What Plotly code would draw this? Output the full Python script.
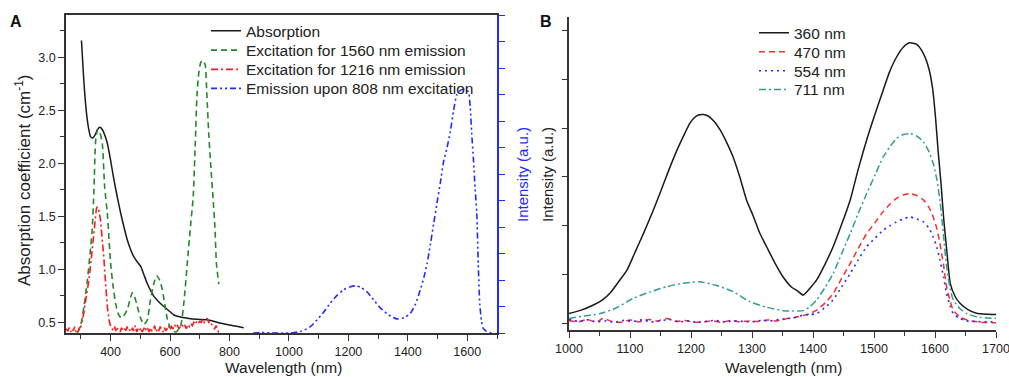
import plotly.graph_objects as go

# ---------------- Panel A data ----------------
# Absorption spectrum (left axis, cm^-1)
abs_wl = [302, 310, 318, 326, 333, 340, 348, 356, 364, 372, 380, 389, 400, 411, 422, 434,
          445, 456, 467, 478, 490, 501, 512, 523, 535, 546, 560, 579, 596, 613, 635, 658,
          690, 725, 760, 792, 820, 848]
abs_val = [3.16, 2.78, 2.50, 2.33, 2.25, 2.24, 2.27, 2.32, 2.34, 2.32, 2.27, 2.19, 2.03, 1.85,
           1.69, 1.53, 1.40, 1.28, 1.19, 1.12, 1.07, 1.03, 0.95, 0.87, 0.80, 0.745, 0.70, 0.65,
           0.61, 0.57, 0.55, 0.54, 0.53, 0.525, 0.50, 0.48, 0.465, 0.45]

# Excitation spectrum monitored at 1560 nm (left axis)
exc1560_wl = [288, 300, 311, 322, 330, 338, 344, 350, 357, 364, 372, 380, 389, 400, 408, 417,
              426, 436, 446, 456, 465, 473, 481, 490, 501, 512, 523, 534, 545, 555, 565, 574,
              583, 591, 599, 607, 620, 635, 647, 658, 668, 678, 685, 691, 697, 703, 708, 712,
              716, 719, 724, 730, 737, 745, 751, 756, 764]
exc1560_val = [0.40, 0.48, 0.66, 0.90, 1.12, 1.37, 1.75, 2.22, 2.32, 2.29, 2.19, 1.78, 1.53,
               1.06, 0.85, 0.68, 0.58, 0.54, 0.57, 0.62, 0.71, 0.78, 0.74, 0.65, 0.54, 0.48,
               0.52, 0.71, 0.86, 0.94, 0.90, 0.81, 0.66, 0.53, 0.46, 0.42, 0.41, 0.46, 0.70,
               1.06, 1.38, 1.69, 2.20, 2.66, 2.86, 2.95, 2.97, 2.97, 2.95, 2.92, 2.65, 2.29,
               1.98, 1.66, 1.40, 1.06, 0.86]

# Excitation spectrum monitored at 1216 nm (left axis, noisy baseline)
exc1216_wl = [250, 256, 261, 266, 270, 275, 279, 284, 288, 292, 296, 300, 305, 310, 318, 327,
              335, 342, 348, 352, 355, 358, 361, 366, 372, 377, 383, 389, 395, 400, 405, 410,
              414, 419, 423, 428, 432, 437, 441, 446, 450, 455, 460, 464, 469, 474, 478, 483,
              488, 492, 497, 502, 506, 511, 516, 520, 525, 530, 534, 539, 544, 548, 553, 558,
              562, 567, 572, 576, 581, 586, 590, 595, 600, 605, 610, 615, 620, 625, 630, 635,
              640, 645, 650, 655, 660, 665, 670, 675, 680, 685, 690, 695, 700, 705, 710, 715,
              720, 725, 730, 735, 740, 745, 750, 755, 760, 764]
exc1216_val = [0.44, 0.42, 0.45, 0.41, 0.44, 0.42, 0.46, 0.41, 0.43, 0.42, 0.45, 0.46, 0.52,
               0.59, 0.74, 0.90, 1.10, 1.28, 1.48, 1.57, 1.59, 1.56, 1.55, 1.47, 1.30, 1.12,
               0.88, 0.65, 0.52, 0.46, 0.44, 0.42, 0.46, 0.41, 0.44, 0.43, 0.41, 0.45, 0.42,
               0.44, 0.41, 0.46, 0.42, 0.43, 0.41, 0.45, 0.42, 0.47, 0.41, 0.44, 0.42, 0.45,
               0.41, 0.43, 0.46, 0.42, 0.44, 0.41, 0.45, 0.42, 0.43, 0.47, 0.41, 0.44, 0.42,
               0.46, 0.43, 0.41, 0.45, 0.42, 0.44, 0.47, 0.43, 0.46, 0.44, 0.48, 0.45, 0.47,
               0.44, 0.46, 0.48, 0.45, 0.47, 0.44, 0.48, 0.46, 0.49, 0.47, 0.50, 0.48, 0.51,
               0.49, 0.51, 0.50, 0.53, 0.50, 0.52, 0.54, 0.50, 0.51, 0.48, 0.46, 0.44, 0.47,
               0.42, 0.40]

# Emission upon 808 nm excitation (right axis, a.u.)
em808_wl = [880, 904, 940, 975, 1005, 1039, 1070, 1095, 1118, 1139, 1162, 1184, 1205, 1223,
            1242, 1262, 1285, 1308, 1336, 1364, 1388, 1409, 1426, 1442, 1454, 1465, 1476,
            1487, 1498, 1509, 1520, 1532, 1543, 1554, 1565, 1576, 1587, 1596, 1604, 1610,
            1615, 1621, 1626, 1632, 1637, 1642, 1648, 1653, 1664, 1676, 1690]
em808_val = [0.0, 0.02, 0.0, 0.0, 0.0, 0.06, 0.22, 0.50, 0.80, 1.13, 1.42, 1.63, 1.74, 1.78,
             1.72, 1.56, 1.25, 0.94, 0.68, 0.53, 0.58, 0.75, 1.10, 1.63, 2.10, 2.63, 3.35,
             4.13, 4.90, 5.64, 6.45, 7.00, 7.60, 8.40, 9.00, 9.15, 9.20, 9.18, 9.10, 8.50,
             7.52, 6.50, 5.51, 4.51, 2.60, 1.10, 0.45, 0.19, 0.06, 0.02, 0.0]

# ---------------- Panel B data ----------------
wl_360 = [1000, 1020, 1040, 1055, 1067, 1080, 1095, 1108, 1122, 1136, 1149, 1163, 1177, 1190,
          1198, 1205, 1212, 1220, 1228, 1238, 1248, 1258, 1269, 1280, 1291, 1302, 1313, 1324,
          1337, 1351, 1365, 1375, 1384, 1395, 1406, 1420, 1433, 1447, 1461, 1474, 1488, 1502,
          1515, 1526, 1537, 1548, 1558, 1570, 1581, 1590, 1596, 1601, 1605, 1610, 1614, 1620,
          1625, 1633, 1641, 1654, 1668, 1685, 1700]
in_360 = [0.20, 0.27, 0.375, 0.48, 0.615, 0.83, 1.09, 1.45, 1.84, 2.25, 2.66, 3.12, 3.55,
          3.90, 4.10, 4.21, 4.27, 4.28, 4.25, 4.14, 3.96, 3.72, 3.41, 3.00, 2.53, 2.20, 1.84,
          1.57, 1.25, 0.95, 0.74, 0.66, 0.58, 0.72, 0.89, 1.22, 1.57, 2.03, 2.53, 3.15, 3.76,
          4.30, 4.78, 5.17, 5.46, 5.66, 5.75, 5.72, 5.53, 5.22, 4.82, 4.20, 3.55, 2.85, 2.18,
          1.40, 0.82, 0.55, 0.41, 0.28, 0.205, 0.185, 0.18]

wl_470 = [1000, 1015, 1030, 1045, 1055, 1070, 1085, 1100, 1115, 1130, 1145, 1160, 1175, 1190,
          1205, 1220, 1235, 1250, 1265, 1280, 1295, 1310, 1325, 1340, 1355, 1370, 1384, 1395,
          1406, 1420, 1433, 1447, 1461, 1474, 1488, 1502, 1515, 1526, 1537, 1548, 1559, 1570,
          1581, 1590, 1597, 1603, 1608, 1614, 1619, 1625, 1630, 1641, 1652, 1670, 1700]
in_470 = [0.06, 0.03, 0.08, 0.02, 0.10, 0.04, 0.02, 0.07, 0.03, 0.08, 0.05, 0.10, 0.04, 0.06,
          0.02, 0.03, 0.05, 0.02, 0.06, 0.03, 0.05, 0.04, 0.07, 0.05, 0.09, 0.12, 0.16, 0.20,
          0.27, 0.42, 0.61, 0.92, 1.23, 1.53, 1.84, 2.07, 2.29, 2.44, 2.56, 2.63, 2.66, 2.62,
          2.53, 2.38, 2.18, 1.94, 1.64, 1.20, 0.75, 0.45, 0.27, 0.13, 0.07, 0.03, 0.01]

wl_554 = [1000, 1015, 1030, 1045, 1060, 1075, 1090, 1105, 1120, 1135, 1150, 1165, 1180, 1195,
          1210, 1225, 1240, 1255, 1270, 1285, 1300, 1315, 1330, 1345, 1360, 1375, 1384, 1395,
          1406, 1420, 1433, 1447, 1461, 1474, 1488, 1502, 1515, 1526, 1537, 1548, 1559, 1570,
          1581, 1590, 1597, 1603, 1608, 1614, 1619, 1625, 1630, 1641, 1652, 1670, 1700]
in_554 = [0.08, 0.04, 0.07, 0.03, 0.05, 0.02, 0.06, 0.04, 0.07, 0.03, 0.05, 0.08, 0.03, 0.05,
          0.02, 0.04, 0.06, 0.03, 0.05, 0.04, 0.03, 0.06, 0.05, 0.08, 0.10, 0.13, 0.17, 0.18,
          0.20, 0.33, 0.48, 0.75, 1.02, 1.30, 1.57, 1.75, 1.91, 2.00, 2.08, 2.14, 2.18, 2.14,
          2.08, 1.95, 1.77, 1.56, 1.30, 0.95, 0.61, 0.35, 0.20, 0.10, 0.05, 0.035, 0.03]

wl_711 = [1000, 1025, 1051, 1078, 1105, 1132, 1160, 1187, 1214, 1241, 1269, 1297, 1324, 1351,
          1368, 1384, 1395, 1406, 1420, 1433, 1447, 1461, 1474, 1488, 1502, 1515, 1526, 1537,
          1548, 1559, 1570, 1581, 1590, 1597, 1603, 1608, 1614, 1619, 1625, 1630, 1641, 1652,
          1670, 1700]
in_711 = [0.10, 0.15, 0.20, 0.32, 0.51, 0.64, 0.75, 0.82, 0.85, 0.78, 0.65, 0.44, 0.33, 0.26,
          0.25, 0.26, 0.34, 0.48, 0.74, 1.02, 1.43, 1.84, 2.25, 2.66, 3.05, 3.41, 3.62, 3.79,
          3.87, 3.89, 3.84, 3.72, 3.52, 3.28, 2.95, 2.53, 1.80, 1.16, 0.70, 0.48, 0.30, 0.20,
          0.13, 0.10]

FONT = "Liberation Sans, Arial, sans-serif"
INK = "#222222"
BLUE = "#1f2bff"
W, H = 1009, 377


def px_x(x):
    return x / W


def px_y(y):
    return 1 - y / H


fig = go.Figure()

# Panel A traces (each in its own legend box so the rows sit tightly stacked)
fig.add_trace(go.Scatter(x=abs_wl, y=abs_val, name="Absorption", mode="lines",
                         line=dict(color="#1a1a1a", width=1.5, shape="spline", smoothing=0.6),
                         xaxis="x", yaxis="y", legend="legend"))
fig.add_trace(go.Scatter(x=exc1560_wl, y=exc1560_val, name="Excitation for 1560 nm emission",
                         mode="lines",
                         line=dict(color="#23882a", width=1.6, dash="6px,4px", shape="spline",
                                   smoothing=0.6),
                         xaxis="x", yaxis="y", legend="legend2"))
fig.add_trace(go.Scatter(x=exc1216_wl, y=exc1216_val, name="Excitation for 1216 nm emission",
                         mode="lines",
                         line=dict(color="#ff1a1a", width=1.6, dash="7px,3px,2px,3px"),
                         xaxis="x", yaxis="y", legend="legend3"))
fig.add_trace(go.Scatter(x=em808_wl, y=em808_val, name="Emission upon 808 nm excitation",
                         mode="lines",
                         line=dict(color=BLUE, width=1.6,
                                   dash="6px,3px,2px,3px,2px,3px", shape="spline",
                                   smoothing=0.6),
                         xaxis="x", yaxis="y2", legend="legend4"))

# Panel B traces
fig.add_trace(go.Scatter(x=wl_360, y=in_360, name="360 nm", mode="lines",
                         line=dict(color="#1a1a1a", width=1.5, shape="spline", smoothing=0.6),
                         xaxis="x3", yaxis="y3", legend="legend5"))
fig.add_trace(go.Scatter(x=wl_470, y=in_470, name="470 nm", mode="lines",
                         line=dict(color="#ff2a2a", width=1.5, dash="6px,4px", shape="spline",
                                   smoothing=0.6),
                         xaxis="x3", yaxis="y3", legend="legend6"))
fig.add_trace(go.Scatter(x=wl_554, y=in_554, name="554 nm", mode="lines",
                         line=dict(color="#2a2aff", width=1.6, dash="2px,4px", shape="spline",
                                   smoothing=0.6),
                         xaxis="x3", yaxis="y3", legend="legend7"))
fig.add_trace(go.Scatter(x=wl_711, y=in_711, name="711 nm", mode="lines",
                         line=dict(color="#2f9c98", width=1.5, dash="7px,3px,2px,3px",
                                   shape="spline", smoothing=0.6),
                         xaxis="x3", yaxis="y3", legend="legend8"))

tickfont = dict(family=FONT, size=12.5, color=INK)
A_dom_x = [px_x(66), px_x(497)]
A_dom_y = [px_y(333), px_y(15)]
B_dom_x = [px_x(569), px_x(996)]
B_dom_y = [px_y(330), px_y(17)]

fig.update_layout(
    template="none",
    width=W, height=H,
    margin=dict(l=0, r=0, t=0, b=0, autoexpand=False),
    paper_bgcolor="white", plot_bgcolor="white",
    font=dict(family=FONT, color=INK),
    xaxis=dict(domain=A_dom_x, anchor="y", range=[250, 1700], tickmode="linear", tick0=400,
               dtick=200, ticks="outside", ticklen=6, tickwidth=1.2, tickcolor="#333",
               showline=True, linecolor="#333", linewidth=1.5, mirror=True,
               showgrid=False, zeroline=False, tickfont=tickfont, automargin=False,
               minor=dict(tickmode="linear", tick0=300, dtick=100, ticks="outside",
                          ticklen=4, tickcolor="#333", showgrid=False)),
    xaxis2=dict(domain=A_dom_x, anchor="y", overlaying="x", side="top", range=[250, 1700],
                tickmode="linear", tick0=300, dtick=100, ticks="inside", ticklen=5,
                tickcolor="#333", showticklabels=False, showline=True, linecolor="#333",
                linewidth=1.5, showgrid=False, zeroline=False, automargin=False),
    yaxis=dict(domain=A_dom_y, anchor="x", range=[0.4, 3.4], tickmode="linear", tick0=0.5,
               dtick=0.5, tickformat=".1f", ticks="outside", ticklen=6, tickwidth=1.2,
               tickcolor="#333", showline=True, linecolor="#333", linewidth=1.5,
               showgrid=False, zeroline=False, tickfont=tickfont, automargin=False,
               minor=dict(tickmode="linear", tick0=0.25, dtick=0.25, ticks="outside",
                          ticklen=4, tickcolor="#333", showgrid=False)),
    yaxis2=dict(domain=A_dom_y, anchor="x", overlaying="y", side="right", range=[0, 12],
                tickmode="linear", tick0=0, dtick=1, ticks="outside", ticklen=6,
                tickwidth=1.2, tickcolor=BLUE, showticklabels=False, showline=True,
                linecolor=BLUE, linewidth=1.5, showgrid=False, zeroline=False,
                automargin=False),
    xaxis3=dict(domain=B_dom_x, anchor="y3", range=[1000, 1700], tickmode="linear",
                tick0=1000, dtick=100, ticks="outside", ticklen=6, tickwidth=1.2,
                tickcolor="#333", showline=True, linecolor="#333", linewidth=1.5,
                showgrid=False, zeroline=False, tickfont=tickfont, automargin=False,
                ticklabeloverflow="allow",
                minor=dict(tickmode="linear", tick0=1050, dtick=100, ticks="outside",
                           ticklen=4, tickcolor="#333", showgrid=False)),
    yaxis3=dict(domain=B_dom_y, anchor="x3", range=[-0.137, 6.28], tickmode="linear",
                tick0=0, dtick=1, ticks="outside", ticklen=5, tickwidth=1.2,
                tickcolor="#333", showticklabels=False, showline=True, linecolor="#333",
                linewidth=1.5, showgrid=False, zeroline=False, automargin=False),
    showlegend=True,
)

# Legend rows: panel A (text centres ~31, 50, 69, 88 px) and panel B (~33, 52, 71, 89 px)
legend_font = dict(family=FONT, size=15.5, color=INK)
A_rows = [30.7, 50.0, 69.3, 88.3]
B_rows = [32.7, 51.7, 70.7, 89.3]
legend_specs = {}
for i, yc in enumerate(A_rows):
    legend_specs["legend" if i == 0 else f"legend{i + 1}"] = (206, yc)
for i, yc in enumerate(B_rows):
    legend_specs[f"legend{i + 5}"] = (754, yc)
for key, (lx, yc) in legend_specs.items():
    fig.update_layout({key: dict(x=px_x(lx), y=px_y(yc - 16.5), xanchor="left",
                                 yanchor="top", bgcolor="rgba(0,0,0,0)", borderwidth=0,
                                 font=legend_font, itemwidth=30)})

label_font = dict(family=FONT, size=15.5, color=INK)
annotations = [
    dict(text="<b>A</b>", x=px_x(16), y=px_y(22), font=dict(family=FONT, size=16, color="#111")),
    dict(text="<b>B</b>", x=px_x(546), y=px_y(22), font=dict(family=FONT, size=16, color="#111")),
    dict(text="Wavelength (nm)", x=px_x(283), y=px_y(367), font=label_font),
    dict(text="Wavelength (nm)", x=px_x(783), y=px_y(367), font=label_font),
    dict(text="Absorption coefficient (cm<sup>-1</sup>)", x=px_x(23), y=px_y(180),
         textangle=-90, font=dict(family=FONT, size=17, color=INK)),
    dict(text="Intensity (a.u.)", x=px_x(522), y=px_y(175), textangle=-90,
         font=dict(family=FONT, size=15, color=BLUE)),
    dict(text="Intensity (a.u.)", x=px_x(547), y=px_y(175), textangle=-90,
         font=dict(family=FONT, size=15, color=INK)),
]
for a in annotations:
    a.update(xref="paper", yref="paper", xanchor="center", yanchor="middle", showarrow=False)
fig.update_layout(annotations=annotations)

fig.write_html("out.html")
